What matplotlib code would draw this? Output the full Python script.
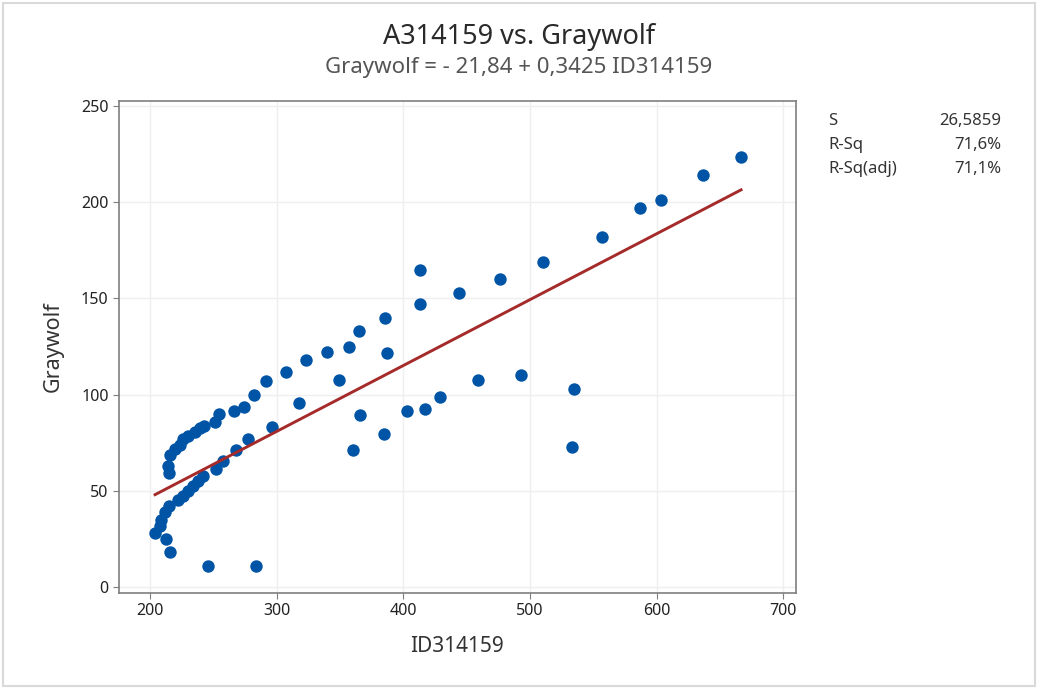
import matplotlib.pyplot as plt
from matplotlib.patches import Rectangle

# ======================
# DATA
# ======================
id314159 = [
    215, 214.5, 216, 220, 223.7, 226, 230, 235.5, 239.5, 243, 251, 254.7,
    266, 274, 282, 291.6, 307, 323, 340, 357, 365, 385.6, 413, 413, 444,
    476, 510, 557, 586.5, 603.6, 636.5, 666.6,
    204, 208, 209, 212, 215, 212.6, 216, 222, 226, 230, 234, 238, 242, 246,
    252, 258, 268, 277.6, 283.7, 296.5, 317.6, 349, 387, 366, 360.6, 384.8,
    402.7, 417, 429, 458.7, 492.7, 535, 533,
]
graywolf = [
    59.5, 63, 68.5, 71.6, 74, 77, 78.6, 80.7, 82.6, 83.7, 85.6, 89.8,
    91.5, 93.8, 100, 107, 112, 118, 122, 125, 133, 140, 147, 165, 153,
    160, 169, 182, 197, 201, 214, 223.5,
    28, 31.8, 35, 39, 42, 25, 18, 45, 47.4, 50, 52.6, 55, 57.8, 11,
    61.6, 65.6, 71, 77, 11, 83, 95.5, 107.5, 121.5, 89.5, 71, 79.4,
    91.6, 92.8, 99, 107.7, 110, 102.8, 72.8,
]
intercept = -21.84
slope = 0.3425
stat_names = ['S', 'R-Sq', 'R-Sq(adj)']
stat_values = ['26,5859', '71,6%', '71,1%']
x_ticks = [200, 300, 400, 500, 600, 700]
y_ticks = [0, 50, 100, 150, 200, 250]

# ======================
# STYLE
# ======================
plt.rcParams['font.family'] = ['Noto Sans', 'DejaVu Sans']
TEXT = '#333333'
BLUE = '#0054A6'
RED = '#A52A2A'

fig = plt.figure(figsize=(10.38, 6.89), dpi=100)
ax = fig.add_axes([0.1146, 0.1393, 0.6523, 0.7148])

ax.scatter(id314159, graywolf, s=80, color=BLUE, zorder=3, linewidths=0)

# fitted line over the data range
x0, x1 = min(id314159), max(id314159)
ax.plot([x0, x1], [intercept + slope * x0, intercept + slope * x1],
        color=RED, lw=2.1, zorder=4)

ax.set_xlim(175.5, 710)
ax.set_ylim(-3.1, 252.9)
ax.set_xticks(x_ticks)
ax.set_yticks(y_ticks)
ax.grid(True, color='#EFEFEF', lw=1)
ax.set_axisbelow(True)
for sp in ax.spines.values():
    sp.set_color('#7F7F7F')
    sp.set_linewidth(1.2)
ax.tick_params(colors='#7F7F7F', labelcolor='#222222', labelsize=11.5, length=4)

ax.set_xlabel('ID314159', fontsize=15, color=TEXT, labelpad=12)
ax.set_ylabel('Graywolf', fontsize=15.5, color=TEXT, labelpad=12)

fig.text(0.5, 1 - 37 / 689, 'A314159 vs. Graywolf', ha='center', va='center',
         fontsize=19.5, color='#2A2A2A')
fig.text(0.5, 1 - 68 / 689, 'Graywolf = - 21,84 + 0,3425 ID314159',
         ha='center', va='center', fontsize=16, color='#555555')

for i, (name, val) in enumerate(zip(stat_names, stat_values)):
    yy = 1 - (121 + 24 * i) / 689
    fig.text(828 / 1038, yy, name, ha='left', va='center', fontsize=12, color=TEXT)
    fig.text(1001 / 1038, yy, val, ha='right', va='center', fontsize=12, color=TEXT)

# light outer frame
fig.patches.append(Rectangle((3 / 1038, 3 / 689), 1 - 6 / 1038, 1 - 6 / 689,
                             transform=fig.transFigure, fill=False,
                             edgecolor='#D9D9D9', lw=1.5))

fig.savefig('out.png', dpi=100)
